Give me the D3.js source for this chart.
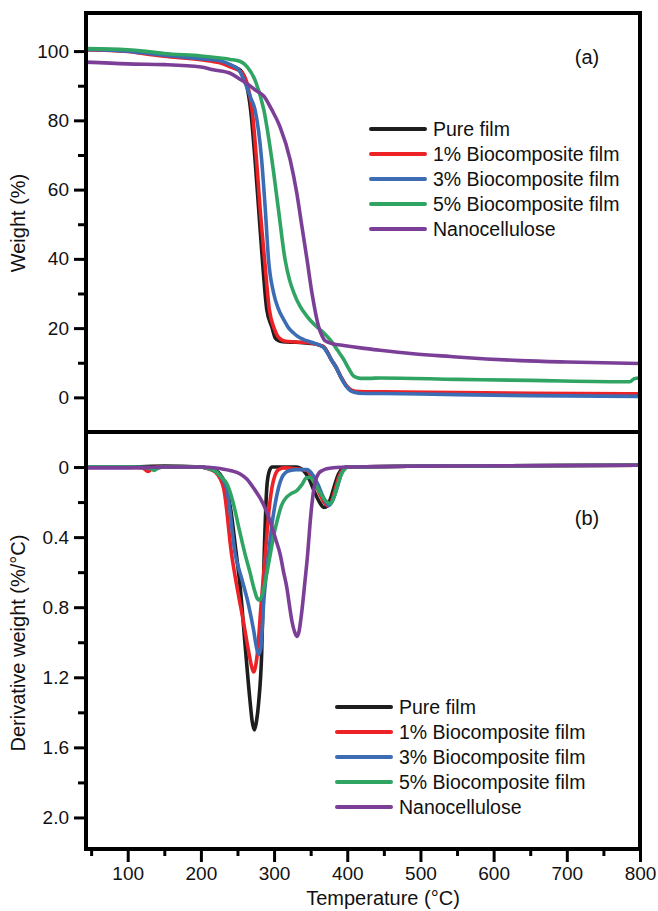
<!DOCTYPE html>
<html>
<head>
<meta charset="utf-8">
<script src="https://cdn.jsdelivr.net/npm/d3@7"></script>
<style>
  body { margin: 0; background: #fff; }
  svg text { font-family: "Liberation Sans", Arial, Helvetica, sans-serif; fill: #111; }
</style>
</head>
<body>
<div id="chart"></div>
<script>
// series names + colours (same order for both panels)
const seriesNames = ["Pure film", "1% Biocomposite film", "3% Biocomposite film", "5% Biocomposite film", "Nanocellulose"];
const seriesColors = ["#1d1d1d", "#ec2227", "#3b6cb4", "#2fa463", "#7b3f98"];

// (a) TGA : [temperature °C, weight %]
const pureTGA = [[43,100.5],[100,100.1],[150,99.1],[200,98],[226,97],[241,95.8],[250,95],[256,94],[262,90.7],[268,83],[274,68.6],[279,54.2],[284,39.8],[290,25.4],[297,20.3],[301.5,17.2],[306,16.4],[312,16.1],[330,15.9],[350,15.6],[357,15.4],[363,15],[368,14.5],[373,13],[377,11.3],[385,8.6],[392,5.6],[399,3.2],[406,1.9],[416,1.4],[450,1.3],[550,1.1],[650,0.9],[800,0.7]];
const oneTGA = [[43,100.4],[100,99.9],[130,99],[150,98.5],[200,97.5],[226,96.6],[241,95.4],[250,94.6],[257,93.6],[264,90],[270,83],[276,68.6],[281,54.2],[287,39.8],[293.5,25.4],[300,20],[304,18],[308.4,16.9],[314,16.3],[330,16],[350,15.7],[357,15.4],[363,15],[368,14.5],[373,13],[377,11.3],[385,8.6],[392,5.6],[399,3.3],[406,2.1],[416,1.7],[450,1.6],[550,1.4],[650,1.2],[800,1.0]];
const threeTGA = [[43,100.5],[100,100],[130,99.3],[150,98.8],[200,97.8],[226,97.2],[241,96],[252,94.5],[262,90],[268,86.5],[274,83],[283,68.6],[288,54.2],[292.4,39.8],[299.3,30.2],[306,25.5],[313,22.5],[320,20],[326.6,18.6],[333,17.5],[340.3,16.7],[350,16],[357,15.5],[363,15],[368,14.3],[373,12.8],[378,11],[385,8.5],[392,5.5],[399,3.1],[406,1.7],[416,1.2],[450,1.1],[550,0.8],[650,0.5],[800,0.3]];
const fiveTGA = [[43,100.7],[100,100.4],[130,99.8],[150,99.3],[200,98.6],[226,98],[240,97.6],[254,97],[263,95.5],[274,91.6],[286,83],[297,68.6],[306,54.2],[315,39.8],[321,34],[327,30.2],[335,26.5],[345,23.4],[356,20.8],[368,18.6],[377,16.5],[386,13.8],[395,11],[402,8.3],[409,6.1],[418,5.5],[430,5.5],[445,5.6],[550,5.2],[650,4.9],[786,4.5],[792,5.4],[800,5.6]];
const nanoTGA = [[43,96.8],[100,96.3],[150,96.1],[200,95.4],[217,94.6],[240,93.6],[254,91.8],[265,90.3],[276,88.5],[286,87],[297,83],[308,78.2],[322,68.6],[331,59],[338,49.4],[345,39.8],[351.7,30.2],[360.8,20.5],[365,18],[370,16.3],[380,15.5],[395,15],[418,14.3],[445,13.6],[490,12.6],[541,11.8],[590,11.1],[637,10.6],[700,10.2],[800,9.8]];

// (b) DTG : [temperature °C, derivative weight %/°C] (axis runs downward)
const pureDTG = [[43,0],[100,0],[150,-0.005],[200,0],[212,0.01],[220,0.02],[226,0.04],[235,0.12],[241,0.25],[247,0.45],[254,0.7],[260.5,1.02],[267,1.33],[270,1.45],[273,1.5],[276,1.45],[279,1.34],[283,1.07],[286.5,0.5],[290,0.12],[293,0.03],[297,0],[330,0],[340,0.02],[348,0.07],[355,0.14],[362,0.2],[368,0.23],[373,0.22],[378,0.17],[383,0.1],[388,0.04],[393,0.01],[400,0],[500,-0.005],[800,-0.01]];
const oneDTG = [[43,0],[100,0],[120,0.005],[128,0.025],[133,0.01],[140,0],[200,0],[210,0.01],[220,0.03],[231,0.12],[242,0.5],[250,0.7],[258,0.88],[266,1.07],[270,1.15],[272,1.17],[274,1.15],[277,1.07],[282,0.8],[288,0.5],[293,0.25],[297,0.12],[301,0.05],[306,0.015],[314,0.005],[330,0.01],[345,0.02],[355,0.08],[362,0.15],[368,0.2],[374,0.22],[379,0.19],[384,0.12],[389,0.05],[395,0.01],[400,0],[500,-0.005],[800,-0.01]];
const threeDTG = [[43,0],[100,0],[130,0.005],[137,0.015],[142,0.005],[150,0],[200,0],[212,0.01],[222,0.03],[235,0.12],[247,0.5],[256,0.64],[265,0.785],[272,0.93],[276,1.03],[279,1.07],[282,1.03],[285.6,0.785],[292.4,0.5],[297,0.33],[301.5,0.21],[306,0.12],[310.7,0.06],[316,0.03],[322,0.02],[330,0.015],[345,0.015],[352,0.04],[360,0.1],[367,0.17],[374.5,0.22],[380,0.19],[386,0.12],[391,0.05],[395,0.015],[400,0],[500,-0.005],[800,-0.01]];
const fiveDTG = [[43,0],[100,0],[130,0.003],[136,0.02],[140,0.005],[150,0],[200,0],[212,0.01],[220,0.025],[228.6,0.06],[236,0.1],[244.5,0.21],[252,0.35],[260.5,0.5],[267,0.6],[273,0.7],[277,0.75],[280,0.76],[283,0.74],[288,0.65],[294.7,0.5],[300,0.38],[304,0.31],[310,0.22],[317.5,0.17],[324,0.15],[331,0.135],[338,0.1],[344.7,0.06],[349,0.06],[355,0.09],[362,0.14],[370,0.19],[376.8,0.21],[382,0.17],[387,0.1],[392,0.04],[397,0.01],[402,0],[500,-0.005],[800,-0.01]];
const nanoDTG = [[43,0.005],[100,0.005],[150,0],[200,0],[220,0.005],[240,0.02],[253.7,0.04],[263,0.07],[272,0.12],[285,0.21],[294.7,0.31],[302,0.41],[308.4,0.5],[313,0.6],[317.5,0.69],[321,0.79],[324.4,0.88],[328,0.94],[331,0.967],[334,0.94],[338,0.82],[342,0.66],[345.8,0.5],[349,0.33],[351.7,0.21],[355,0.11],[358,0.06],[361,0.035],[366,0.02],[372,0.01],[400,0],[500,-0.005],[800,-0.01]];

const tgaSeries = [pureTGA, oneTGA, threeTGA, fiveTGA, nanoTGA];
const dtgSeries = [pureDTG, oneDTG, threeDTG, fiveDTG, nanoDTG];

// ticks
const tempTicks = [100, 200, 300, 400, 500, 600, 700, 800];
const tempMinor = [50, 150, 250, 350, 450, 550, 650, 750];
const weightTicks = [0, 20, 40, 60, 80, 100];
const weightMinor = [10, 30, 50, 70, 90];
const derivTicks = [0, 0.4, 0.8, 1.2, 1.6, 2.0];
const derivTickLabels = ["0", "0.4", "0.8", "1.2", "1.6", "2.0"];
const derivMinor = [0.2, 0.6, 1.0, 1.4, 1.8];

const w = 658, h = 911;
const padL = 86, padR = 640, padT = 13, midY = 432, padB = 849;

const svg = d3.select('#chart').append('svg')
    .attr('width', w)
    .attr('height', h);

const xScale = d3.scaleLinear().domain([43, 800]).range([padL, padR]);
const yTop = d3.scaleLinear().domain([-10, 111]).range([midY, padT]);
const yBot = d3.scaleLinear().domain([-0.2, 2.18]).range([midY, padB]);

const defs = svg.append('defs');
defs.append('clipPath').attr('id', 'clipA')
    .append('rect').attr('x', padL).attr('y', padT).attr('width', padR - padL).attr('height', midY - padT);
defs.append('clipPath').attr('id', 'clipB')
    .append('rect').attr('x', padL).attr('y', midY).attr('width', padR - padL).attr('height', padB - midY);

function drawCurves(series, yScale, clip) {
    const line = d3.line()
        .x(d => xScale(d[0]))
        .y(d => yScale(d[1]))
        .curve(d3.curveMonotoneX);
    svg.append('g').attr('clip-path', 'url(#' + clip + ')')
        .selectAll('path')
        .data(series)
        .enter()
        .append('path')
        .attr('d', line)
        .attr('fill', 'none')
        .attr('stroke', (d, i) => seriesColors[i])
        .attr('stroke-width', 3.6)
        .attr('stroke-linejoin', 'round')
        .attr('stroke-linecap', 'round');
}

drawCurves(tgaSeries, yTop, 'clipA');
drawCurves(dtgSeries, yBot, 'clipB');

// frames
svg.append('rect').attr('x', padL).attr('y', padT).attr('width', padR - padL).attr('height', midY - padT)
    .attr('fill', 'none').attr('stroke', '#000').attr('stroke-width', 4);
svg.append('rect').attr('x', padL).attr('y', midY).attr('width', padR - padL).attr('height', padB - midY)
    .attr('fill', 'none').attr('stroke', '#000').attr('stroke-width', 4);

function styleAxis(g) {
    g.select('.domain').remove();
    g.selectAll('line').attr('stroke', '#000').attr('stroke-width', 3);
    g.selectAll('text').style('font-size', '19px').attr('fill', '#111');
}

// y axis (a)
svg.append('g').attr('transform', 'translate(' + padL + ',0)')
    .call(d3.axisLeft(yTop).tickValues(weightTicks).tickSize(12).tickPadding(5).tickFormat(d3.format('d')))
    .call(styleAxis);
svg.append('g').attr('transform', 'translate(' + padL + ',0)')
    .call(d3.axisLeft(yTop).tickValues(weightMinor).tickSize(8).tickFormat(''))
    .call(styleAxis);

// y axis (b)
svg.append('g').attr('transform', 'translate(' + padL + ',0)')
    .call(d3.axisLeft(yBot).tickValues(derivTicks).tickSize(12).tickPadding(5).tickFormat((d, i) => derivTickLabels[i]))
    .call(styleAxis);
svg.append('g').attr('transform', 'translate(' + padL + ',0)')
    .call(d3.axisLeft(yBot).tickValues(derivMinor).tickSize(8).tickFormat(''))
    .call(styleAxis);

// x axis
svg.append('g').attr('transform', 'translate(0,' + padB + ')')
    .call(d3.axisBottom(xScale).tickValues(tempTicks).tickSize(13).tickPadding(5).tickFormat(d3.format('d')))
    .call(styleAxis);
svg.append('g').attr('transform', 'translate(0,' + padB + ')')
    .call(d3.axisBottom(xScale).tickValues(tempMinor).tickSize(7).tickFormat(''))
    .call(styleAxis);

// axis titles
svg.append('text')
    .attr('transform', 'translate(25,' + 223 + ') rotate(-90)')
    .attr('text-anchor', 'middle')
    .style('font-size', '20px')
    .text('Weight (%)');
svg.append('text')
    .attr('transform', 'translate(25,' + 643 + ') rotate(-90)')
    .attr('text-anchor', 'middle')
    .style('font-size', '20px')
    .text('Derivative weight (%/°C)');
svg.append('text')
    .attr('x', (padL + padR) / 2 + 20)
    .attr('y', 905)
    .attr('text-anchor', 'middle')
    .style('font-size', '20px')
    .text('Temperature (°C)');

// panel labels
svg.append('text').attr('x', 587).attr('y', 64).attr('text-anchor', 'middle')
    .style('font-size', '20px').text('(a)');
svg.append('text').attr('x', 587).attr('y', 525).attr('text-anchor', 'middle')
    .style('font-size', '20px').text('(b)');

// legends
function legend(x0, y0) {
    const g = svg.append('g').attr('transform', 'translate(' + x0 + ',' + y0 + ')');
    const rows = g.selectAll('g')
        .data(seriesNames)
        .enter()
        .append('g')
        .attr('transform', (d, i) => 'translate(0,' + (i * 25) + ')');
    rows.append('line')
        .attr('x1', 0).attr('x2', 54)
        .attr('stroke', (d, i) => seriesColors[i])
        .attr('stroke-width', 4)
        .attr('stroke-linecap', 'round');
    rows.append('text')
        .attr('x', 62)
        .attr('dy', '0.35em')
        .style('font-size', '19.5px')
        .text(d => d);
}
legend(371, 129);
legend(337, 707);
</script>
</body>
</html>
